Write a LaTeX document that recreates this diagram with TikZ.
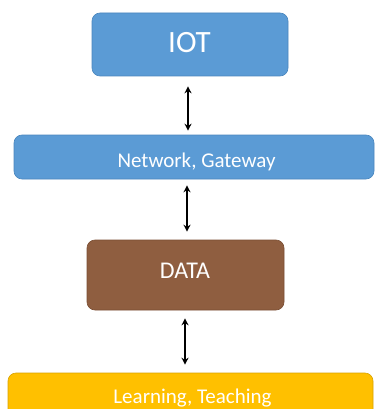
\documentclass[tikz,border=0pt]{standalone}
\usepackage{fontspec}
\setmainfont{Carlito}
\usetikzlibrary{arrows.meta}
\definecolor{boxblue}{HTML}{5B9BD5}
\definecolor{boxblueline}{HTML}{4A86BE}
\definecolor{boxbrown}{HTML}{8F5E40}
\definecolor{boxbrownline}{HTML}{7A4E33}
\definecolor{boxgold}{HTML}{FFC000}
\definecolor{boxgoldline}{HTML}{D9A300}
\begin{document}
\begin{tikzpicture}[x=1pt,y=-1pt,
  box/.style={rectangle, rounded corners=8pt, inner sep=0pt, line width=0.6pt},
  lbl/.style={anchor=base, inner sep=0pt, text=white},
  arr/.style={{Stealth[length=7pt,width=7pt]}-{Stealth[length=7pt,width=7pt]}, line width=1.5pt, black}]
\useasboundingbox (0,0) rectangle (377,409);
\clip (0,0) rectangle (377,409);
\fill[white] (0,0) rectangle (377,409);
\node[box, fill=boxblue, draw=boxblueline, minimum width=196pt, minimum height=63pt] (iot) at (190,44.5) {};
\node[box, fill=boxblue, draw=boxblueline, minimum width=360pt, minimum height=44pt] (net) at (194,157) {};
\node[box, fill=boxbrown, draw=boxbrownline, minimum width=197pt, minimum height=70pt] (data) at (185.5,275) {};
\node[box, fill=boxgold, draw=boxgoldline, minimum width=365pt, minimum height=44pt] (learn) at (190.5,395) {};
\node[lbl, font=\fontsize{31}{33}\selectfont] (iott) at (189.5,53) {IOT};
\node[lbl, font=\fontsize{21}{23}\selectfont] (nett) at (196.5,167) {Network, Gateway};
\node[lbl, font=\fontsize{24}{26}\selectfont] (datat) at (185,278) {DATA};
\node[lbl, font=\fontsize{21}{23}\selectfont] (learnt) at (192.5,403) {Learning, Teaching};
\draw[arr, shorten <=10pt, shorten >=4pt] ([xshift=-2pt]iot.south) -- ([xshift=-2pt]iot.south |- net.north);
\draw[arr, shorten <=6pt, shorten >=8pt] ([xshift=-7pt]net.south) -- ([xshift=-7pt]net.south |- data.north);
\draw[arr, shorten <=8pt, shorten >=8pt] ([xshift=-0.5pt]data.south) -- ([xshift=-0.5pt]data.south |- learn.north);
\end{tikzpicture}
\end{document}
